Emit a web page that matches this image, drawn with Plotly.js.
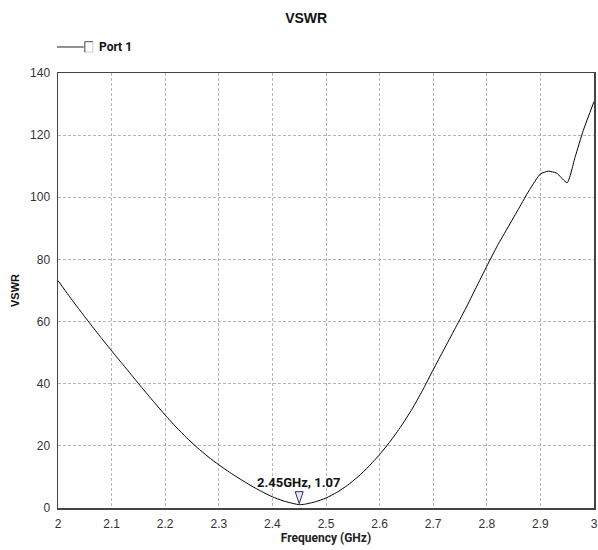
<!DOCTYPE html>
<html>
<head>
<meta charset="utf-8">
<script src="https://cdn.plot.ly/plotly-3.0.1.min.js"></script>
<style>html,body{margin:0;padding:0;background:#fff;}#chart{width:598px;height:550px;}</style>
</head>
<body>
<div id="chart"></div>
<script>
const freqGHz = [2.00,2.02,2.04,2.06,2.08,2.10,2.12,2.14,2.16,2.18,2.20,2.22,2.24,2.26,2.28,2.30,2.32,2.34,2.36,2.38,2.40,2.42,2.44,2.45,2.46,2.48,2.50,2.52,2.54,2.56,2.58,2.60,2.62,2.64,2.66,2.68,2.70,2.72,2.74,2.76,2.78,2.80,2.82,2.84,2.86,2.88,2.90,2.915,2.93,2.95,2.965,2.98,3.00];
const vswr = [73.2,68.4,63.8,59.3,54.9,50.6,46.4,42.2,38.0,33.9,29.9,26.1,22.6,19.4,16.5,13.9,11.5,9.3,7.2,5.3,3.6,2.3,1.4,1.07,1.2,2.0,3.2,5.0,7.3,10.1,13.4,17.2,21.5,26.3,31.7,37.8,44.5,51.0,57.5,64.0,70.9,77.8,84.5,90.5,96.5,102.5,107.5,108.4,107.8,104.7,113.1,121.5,130.8];
const seriesName = "Port 1";
const markerFreq = 2.45;
const markerVswr = 1.07;
const markerLabel = "2.45GHz, 1.07";
const xTicks = [2.0,2.1,2.2,2.3,2.4,2.5,2.6,2.7,2.8,2.9,3.0];
const xTickText = ["2","2.1","2.2","2.3","2.4","2.5","2.6","2.7","2.8","2.9","3"];
const yTicks = [0,20,40,60,80,100,120,140];

const cond = "Roboto, Liberation Sans, Arial, sans-serif";
const sans = "Liberation Sans, Arial, sans-serif";

const trace = {
  x: freqGHz, y: vswr, type: 'scatter', mode: 'lines', name: seriesName,
  line: {color: '#000', width: 1, shape: 'spline', smoothing: 0.5}, showlegend: false, hoverinfo: 'x+y'
};

const layout = {
  width: 598, height: 550,
  margin: {l: 58, r: 4, t: 73, b: 42},
  paper_bgcolor: '#fff', plot_bgcolor: '#fff',
  title: {text: '<b>VSWR</b>', x: 0.512, xanchor: 'center', y: 0.968, yanchor: 'middle',
          font: {family: sans, size: 14, color: '#111'}},
  xaxis: {
    range: [2, 3], tickvals: xTicks, ticktext: xTickText,
    showgrid: true, gridcolor: '#b5b5b5', griddash: '3px,2px', gridwidth: 1,
    zeroline: false, showline: true, mirror: true, linecolor: '#444', linewidth: 1.5,
    ticks: 'outside', ticklen: 4, tickcolor: 'rgba(0,0,0,0)',
    tickfont: {family: sans, size: 12, color: '#333'},
    title: {text: '<b>Frequency (GHz)</b>', standoff: 2, font: {family: cond, size: 12, color: '#222'}}
  },
  yaxis: {
    range: [0, 140], tickvals: yTicks,
    showgrid: true, gridcolor: '#b5b5b5', griddash: '3px,2px', gridwidth: 1,
    zeroline: false, showline: true, mirror: true, linecolor: '#444', linewidth: 1.5,
    ticks: 'outside', ticklen: 4, tickcolor: 'rgba(0,0,0,0)',
    tickfont: {family: sans, size: 12, color: '#333'},
    title: {text: '<b>VSWR</b>', standoff: 8, font: {family: sans, size: 11, color: '#111'}}
  },
  shapes: [
    {type: 'path', xref: 'x', yref: 'y', xsizemode: 'pixel', ysizemode: 'pixel',
     xanchor: markerFreq, yanchor: markerVswr, path: 'M-4,13 L4,13 L0,1 Z',
     line: {color: '#2a2a6a', width: 1}, fillcolor: '#e8e8f4'},
    {type: 'line', xref: 'paper', yref: 'paper', x0: -0.002, x1: 0.048, y0: 1.0598, y1: 1.0598,
     line: {color: '#222', width: 1}},
    {type: 'rect', xref: 'paper', yref: 'paper', x0: 0.05, x1: 0.065, y0: 1.048, y1: 1.072,
     line: {color: '#ccc', width: 1}, fillcolor: '#fff'},
    {type: 'path', xref: 'paper', yref: 'paper', path: 'M0.05,1.048 L0.05,1.072 L0.065,1.072',
     line: {color: '#555', width: 1}}
  ],
  annotations: [
    {x: markerFreq, y: markerVswr, xref: 'x', yref: 'y', text: '<b>' + markerLabel + '</b>', showarrow: false,
     yshift: 22, xshift: -1, font: {family: cond, size: 13, color: '#111'}},
    {x: 0.072, y: 1.0598, xref: 'paper', yref: 'paper', text: '<b>' + seriesName + '</b>', showarrow: false,
     xanchor: 'left', yanchor: 'middle', font: {family: cond, size: 12, color: '#111'}}
  ]
};

Plotly.newPlot('chart', [trace], layout, {displayModeBar: false, staticPlot: true});
</script>
</body>
</html>
